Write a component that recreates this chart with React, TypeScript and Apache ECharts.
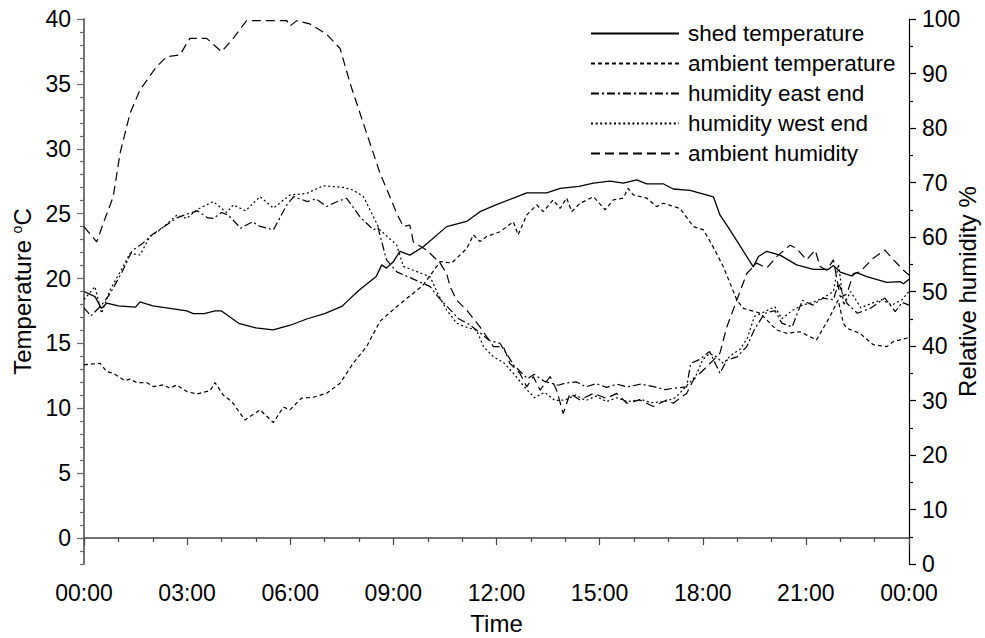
import React, { useEffect, useRef } from "react";
import * as echarts from "echarts";

// Times are hours of the day at the visible kinks of each line.
const shedTime = [0, 0.32, 0.51, 0.66, 1.0, 1.5, 1.63, 2.0, 2.5, 2.99, 3.18, 3.5, 3.81, 4.0, 4.5, 5.0, 5.5, 6.0, 6.5, 7.0, 7.5, 7.64, 8.0, 8.5, 8.66, 8.8, 9.0, 9.19, 9.48, 9.87, 10.55, 11.13, 11.52, 12.0, 12.49, 12.88, 13.46, 13.85, 14.4, 14.82, 15.3, 15.69, 16.08, 16.37, 16.85, 17.14, 17.63, 18.31, 18.5, 18.79, 19.47, 19.62, 19.86, 20.25, 20.73, 21.22, 21.65, 21.8, 22.0, 22.33, 22.48, 22.77, 23.35, 23.74, 23.84, 24];
const shedTemperature = [19.0, 18.6, 17.7, 18.1, 17.9, 17.8, 18.2, 17.9, 17.7, 17.5, 17.3, 17.3, 17.5, 17.5, 16.55, 16.2, 16.05, 16.4, 16.9, 17.3, 17.85, 18.2, 19.1, 20.15, 21.05, 20.8, 21.3, 22.1, 21.8, 22.45, 24.0, 24.4, 25.15, 25.7, 26.2, 26.6, 26.6, 26.95, 27.1, 27.35, 27.5, 27.35, 27.6, 27.3, 27.3, 26.9, 26.8, 26.3, 24.9, 23.75, 20.9, 21.7, 22.1, 21.8, 21.05, 20.7, 20.7, 21.0, 20.5, 20.2, 20.45, 20.15, 19.7, 19.76, 19.6, 19.95];

const ambientTempTime = [0, 0.47, 0.66, 0.85, 1.19, 1.34, 1.53, 1.82, 2.02, 2.31, 2.5, 2.7, 2.99, 3.28, 3.67, 3.81, 4.05, 4.3, 4.68, 5.12, 5.51, 5.8, 5.99, 6.33, 6.67, 7.06, 7.45, 7.83, 8.22, 8.61, 9.1, 9.58, 9.87, 10.36, 10.7, 11.13, 11.33, 11.52, 11.71, 12.1, 12.49, 12.63, 12.88, 13.17, 13.36, 13.65, 13.85, 14.04, 14.19, 14.43, 14.82, 15.16, 15.4, 15.69, 15.83, 15.98, 16.37, 16.66, 16.85, 17.34, 17.73, 18.02, 18.31, 18.6, 18.99, 19.18, 19.67, 20.15, 20.44, 20.83, 21.31, 21.7, 21.94, 22.09, 22.19, 22.57, 22.96, 23.35, 23.55, 23.93, 24];
const ambientTemperature = [13.35, 13.47, 12.83, 12.7, 12.13, 12.25, 11.98, 11.98, 11.67, 11.8, 11.55, 11.8, 11.29, 11.1, 11.36, 11.98, 11.03, 10.52, 9.1, 9.88, 8.9, 10.1, 9.88, 10.78, 10.85, 11.16, 11.93, 13.47, 14.75, 16.7, 17.84, 18.87, 19.5, 21.3, 21.2, 22.3, 23.36, 22.85, 23.23, 23.6, 24.38, 23.36, 24.9, 25.67, 25.15, 26.06, 25.4, 26.2, 25.15, 25.8, 26.3, 25.3, 26.06, 26.2, 26.95, 26.44, 26.2, 25.54, 25.8, 25.4, 24.0, 23.75, 22.4, 20.9, 18.35, 17.7, 17.33, 16.04, 15.78, 15.9, 15.27, 17.07, 18.35, 16.55, 16.17, 15.78, 14.9, 14.75, 15.14, 15.4, 15.5];

const eastTime = [0, 0.2, 0.51, 0.75, 1.1, 1.4, 1.7, 2.0, 2.3, 2.7, 3.0, 3.3, 3.6, 3.76, 4.0, 4.2, 4.56, 4.9, 5.1, 5.51, 5.9, 6.1, 6.5, 6.75, 7.06, 7.4, 7.64, 8.03, 8.42, 8.55, 8.8, 9.1, 9.5, 10.07, 10.3, 10.6, 10.9, 11.2, 11.5, 11.8, 12.1, 12.3, 12.5, 12.9, 13.1, 13.4, 13.8, 14.0, 14.33, 14.6, 14.9, 15.2, 15.5, 15.8, 16.2, 16.6, 16.9, 17.1, 17.53, 17.65, 17.9, 18.2, 18.5, 18.7, 19.0, 19.28, 19.5, 19.8, 20.1, 20.3, 20.6, 20.9, 21.2, 21.5, 21.8, 21.95, 22.2, 22.5, 22.9, 23.3, 23.6, 23.8, 24];
const humidityEast = [47.0, 45.5, 47.5, 49.5, 53.5, 57.5, 58.8, 60.5, 61.8, 63.5, 64.2, 64.8, 63.5, 63.4, 64.5, 64.0, 61.6, 62.8, 62.0, 61.3, 65.9, 67.4, 66.5, 67.0, 65.6, 66.6, 67.1, 63.7, 61.3, 61.8, 55.8, 53.6, 52.5, 50.9, 49.0, 47.0, 45.0, 44.0, 42.5, 41.0, 40.5, 38.5, 36.5, 34.0, 34.8, 33.5, 32.8, 33.2, 33.4, 32.5, 33.1, 32.4, 33.0, 32.5, 33.0, 32.5, 32.0, 32.2, 32.5, 36.8, 37.5, 39.0, 35.0, 37.4, 38.0, 39.9, 43.0, 46.0, 46.5, 44.2, 43.5, 48.4, 47.5, 48.8, 48.5, 51.5, 47.8, 46.0, 47.0, 48.8, 46.3, 48.0, 47.5];

const westTime = [0, 0.32, 0.51, 0.76, 1.14, 1.34, 1.63, 1.92, 2.21, 2.7, 2.99, 3.28, 3.76, 4.15, 4.34, 4.7, 5.12, 5.51, 5.99, 6.48, 6.96, 7.54, 7.83, 8.13, 8.61, 9.1, 9.29, 9.58, 10.07, 10.3, 10.55, 10.84, 11.1, 11.42, 11.62, 11.91, 12.2, 12.49, 12.88, 13.1, 13.4, 13.7, 14.0, 14.3, 14.6, 14.9, 15.2, 15.5, 15.8, 16.2, 16.5, 16.9, 17.2, 17.5, 17.8, 18.0, 18.2, 18.4, 18.6, 18.8, 19.1, 19.3, 19.5, 19.8, 20.1, 20.3, 20.6, 20.9, 21.2, 21.5, 21.8, 21.95, 22.1, 22.3, 22.6, 22.9, 23.2, 23.5, 23.8, 24];
const humidityWest = [48.5, 50.9, 46.0, 50.3, 54.6, 57.0, 56.7, 60.1, 61.3, 64.0, 63.4, 65.0, 66.5, 64.5, 65.9, 64.8, 67.4, 65.3, 67.7, 68.0, 69.4, 69.1, 68.6, 67.4, 61.3, 58.5, 54.6, 53.9, 52.7, 49.5, 46.6, 44.2, 43.5, 42.9, 39.9, 38.0, 37.0, 35.0, 32.0, 30.5, 31.5, 30.0, 30.1, 31.0, 30.0, 30.8, 29.8, 30.5, 29.8, 30.2, 29.6, 29.8, 30.5, 32.5, 34.5, 37.5, 38.6, 38.0, 36.8, 38.2, 39.5, 41.5, 45.4, 46.3, 47.2, 45.0, 46.5, 47.5, 48.0, 48.8, 50.0, 55.0, 47.5, 50.0, 47.0, 47.8, 48.5, 47.5, 48.5, 50.0];

const ambientHumTime = [0, 0.37, 0.56, 0.85, 1.05, 1.24, 1.34, 1.63, 2.11, 2.41, 2.79, 3.08, 3.57, 4.0, 4.34, 4.73, 5.9, 5.99, 6.19, 6.57, 7.06, 7.45, 7.74, 8.03, 8.32, 8.61, 8.9, 9.1, 9.29, 9.48, 9.58, 9.97, 10.36, 10.55, 10.65, 10.84, 11.13, 11.52, 11.91, 12.2, 12.39, 12.68, 12.88, 13.07, 13.27, 13.56, 13.75, 13.94, 14.14, 14.43, 14.82, 15.2, 15.5, 15.79, 16.17, 16.56, 16.95, 17.14, 17.53, 17.73, 17.92, 18.31, 18.5, 18.7, 18.99, 19.28, 19.57, 19.86, 20.15, 20.54, 20.73, 21.02, 21.27, 21.41, 21.61, 21.8, 22.0, 22.19, 22.38, 22.57, 22.96, 23.3, 23.55, 23.84, 24];
const ambientHumidity = [61.9, 59.1, 62.5, 67.4, 75.4, 80.2, 82.7, 87.0, 91.25, 93.1, 93.4, 96.45, 96.45, 94.0, 96.45, 99.7, 99.7, 98.7, 99.7, 99.1, 97.2, 94.6, 88.2, 82.7, 77.2, 71.7, 67.4, 64.3, 61.9, 62.2, 59.1, 57.6, 55.2, 53.3, 50.9, 48.4, 46.6, 43.5, 39.9, 39.9, 36.8, 35.0, 32.5, 34.4, 31.9, 34.4, 31.9, 27.6, 31.3, 30.1, 31.3, 30.4, 31.3, 29.5, 30.1, 28.9, 30.1, 29.5, 31.3, 33.8, 35.0, 37.4, 38.7, 43.5, 48.4, 53.3, 55.2, 54.3, 56.4, 58.5, 57.9, 55.8, 57.6, 54.6, 53.9, 55.8, 49.0, 49.5, 53.3, 53.6, 56.1, 57.6, 55.8, 53.9, 53.0];

const seriesNames = ["shed temperature", "ambient temperature", "humidity east end", "humidity west end", "ambient humidity"];
const tempMajorTicks = [0, 5, 10, 15, 20, 25, 30, 35, 40];

const FONT = "'Liberation Sans', Arial, Helvetica, sans-serif";

function pairs(times: number[], vals: number[]) {
  return times.map((h, i) => [h, vals[i]]);
}

function fmtTime(v: number) {
  const h = Math.round(v) % 24;
  return (h < 10 ? "0" : "") + h + ":00";
}

export default function App() {
  const ref = useRef<HTMLDivElement>(null);
  useEffect(() => {
    if (!ref.current) return;
    const chart = echarts.init(ref.current, undefined, { renderer: "svg" });
    const tempMinor: number[] = [];
    for (let v = -2; v <= 40; v++) if (v % 5 !== 0) tempMinor.push(v);

    const lineBase = { type: "line", symbol: "none", showSymbol: false, smooth: false };
    const option: any = {
      animation: false,
      backgroundColor: "#fff",
      textStyle: { fontFamily: FONT, color: "#000" },
      grid: { left: 84, right: 76, top: 19, bottom: 74, containLabel: false, outerBoundsMode: "none" },
      legend: {
        orient: "vertical",
        left: 590,
        top: 22,
        padding: 0,
        itemWidth: 88,
        itemHeight: 14,
        itemGap: 7,
        align: "left",
        itemStyle: { color: "rgba(0,0,0,0)", borderWidth: 0, opacity: 0 },
        textStyle: { fontFamily: FONT, fontSize: 22.5, color: "#000", lineHeight: 22, padding: [0, 0, 0, 4] },
        data: seriesNames,
      },
      xAxis: {
        type: "value",
        min: 0,
        max: 24,
        interval: 3,
        name: "Time",
        nameLocation: "middle",
        nameGap: 47,
        nameMoveOverlap: false,
        nameTextStyle: { fontFamily: FONT, fontSize: 24, color: "#000" },
        axisLine: { show: true, lineStyle: { color: "#444", width: 1.5 } },
        axisTick: { show: true, inside: false, length: 7, lineStyle: { color: "#444", width: 1.2 } },
        minorTick: { show: true, splitNumber: 3, length: 4, lineStyle: { color: "#444", width: 1.2 } },
        axisLabel: { fontFamily: FONT, fontSize: 23, color: "#000", margin: 17, formatter: fmtTime },
        splitLine: { show: false },
      },
      yAxis: [
        {
          type: "value",
          position: "left",
          min: -2,
          max: 40,
          name: "Temperature {sup|o}C",
          nameLocation: "middle",
          nameRotate: 90,
          nameGap: 50,
          nameMoveOverlap: false,
          nameTextStyle: {
            fontFamily: FONT,
            fontSize: 24,
            color: "#000",
            rich: { sup: { fontFamily: FONT, fontSize: 14, verticalAlign: "top", color: "#000" } },
          },
          axisLine: { show: true, onZero: false, lineStyle: { color: "#666", width: 1.8 } },
          axisTick: { show: true, customValues: tempMajorTicks, length: 7, lineStyle: { color: "#666", width: 1.2 } },
          axisLabel: { customValues: tempMajorTicks, fontFamily: FONT, fontSize: 23, color: "#000", margin: 13 },
          splitLine: { show: false },
        },
        {
          type: "value",
          position: "right",
          min: 0,
          max: 100,
          interval: 10,
          name: "Relative humidity %",
          nameLocation: "middle",
          nameRotate: 90,
          nameGap: 46,
          nameMoveOverlap: false,
          nameTextStyle: { fontFamily: FONT, fontSize: 24, color: "#000" },
          axisLine: { show: true, onZero: false, lineStyle: { color: "#000", width: 1.2 } },
          axisTick: { show: true, length: 7, lineStyle: { color: "#000", width: 1.2 } },
          minorTick: { show: true, splitNumber: 2, length: 4, lineStyle: { color: "#000", width: 1.2 } },
          axisLabel: { fontFamily: FONT, fontSize: 23, color: "#000", margin: 13 },
          splitLine: { show: false },
        },
        {
          type: "value",
          position: "left",
          min: -2,
          max: 40,
          axisLine: { show: false },
          axisTick: { show: true, customValues: tempMinor, length: 4, lineStyle: { color: "#666", width: 1.2 } },
          axisLabel: { show: false },
          splitLine: { show: false },
        },
      ],
      series: [
        { ...lineBase, name: seriesNames[0], yAxisIndex: 0, data: pairs(shedTime, shedTemperature), lineStyle: { color: "#000", width: 1.3, type: "solid" }, itemStyle: { color: "#000" } },
        { ...lineBase, name: seriesNames[1], yAxisIndex: 0, data: pairs(ambientTempTime, ambientTemperature), lineStyle: { color: "#000", width: 1.2, type: [4, 3] }, itemStyle: { color: "#000" } },
        { ...lineBase, name: seriesNames[2], yAxisIndex: 1, data: pairs(eastTime, humidityEast), lineStyle: { color: "#000", width: 1.2, type: [8, 3, 2, 3] }, itemStyle: { color: "#000" } },
        { ...lineBase, name: seriesNames[3], yAxisIndex: 1, data: pairs(westTime, humidityWest), lineStyle: { color: "#000", width: 1.2, type: [2, 2.6] }, itemStyle: { color: "#000" } },
        { ...lineBase, name: seriesNames[4], yAxisIndex: 1, data: pairs(ambientHumTime, ambientHumidity), lineStyle: { color: "#000", width: 1.2, type: [9, 5] }, itemStyle: { color: "#000" } },
      ],
    };
    chart.setOption(option);
    return () => chart.dispose();
  }, []);
  return (
    <div
      ref={ref}
      style={{ position: "fixed", left: 0, top: 0, width: 985, height: 638, background: "#fff" }}
    />
  );
}
